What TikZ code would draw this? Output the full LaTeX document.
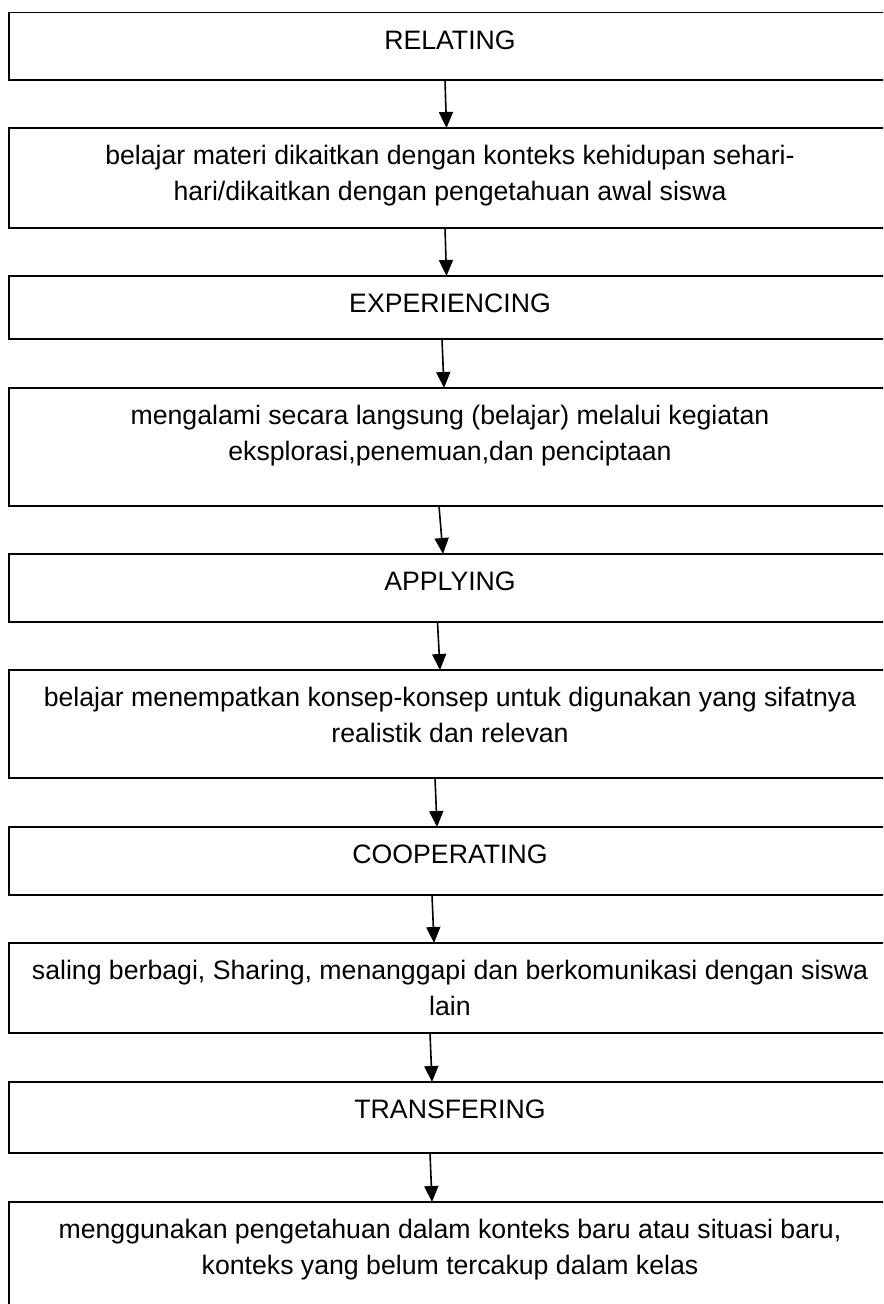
\documentclass[tikz,border=0pt]{standalone}
\usepackage{fontspec}
\setmainfont{Liberation Sans}
\usetikzlibrary{calc,arrows.meta}
\tikzset{
  stepbox/.style={draw=black, line width=1.2pt, rectangle, inner sep=0pt, outer sep=0pt, minimum width=661.5pt},
  steptext/.style={anchor=north, inner sep=0pt, align=center, font=\fontsize{20}{27}\selectfont},
  arr/.style={line width=1.2pt, -{Triangle[length=12pt,width=10.5pt]}}
}
\begin{document}
\begin{tikzpicture}[x=0.75pt,y=-0.75pt]
\useasboundingbox (0,0) rectangle (883,1304);
\clip (0,0) rectangle (883,1304);
\fill[white] (0,0) rectangle (883,1304);
\node[stepbox, minimum height=50.5pt] (b1) at (450,46.35) {};
\node[stepbox, minimum height=75pt] (b2) at (450,178) {};
\node[stepbox, minimum height=47.25pt] (b3) at (450,307.5) {};
\node[stepbox, minimum height=88.5pt] (b4) at (450,447) {};
\node[stepbox, minimum height=51pt] (b5) at (450,588) {};
\node[stepbox, minimum height=81pt] (b6) at (450,724) {};
\node[stepbox, minimum height=51pt] (b7) at (450,861) {};
\node[stepbox, minimum height=67.5pt] (b8) at (450,988) {};
\node[stepbox, minimum height=53.25pt] (b9) at (450,1117.5) {};
\node[stepbox, minimum height=96pt] (b10) at (450,1266) {};

\node[steptext] (t1) at ($(b1.north)+(0,11)$) {\strut RELATING};
\node[steptext] (t2) at ($(b2.north)+(0,11)$) {\strut belajar materi dikaitkan dengan konteks kehidupan sehari-\\hari/dikaitkan dengan pengetahuan awal siswa};
\node[steptext] (t3) at ($(b3.north)+(0,11)$) {\strut EXPERIENCING};
\node[steptext] (t4) at ($(b4.north)+(0,11)$) {\strut mengalami secara langsung (belajar) melalui kegiatan\\eksplorasi,penemuan,dan penciptaan};
\node[steptext] (t5) at ($(b5.north)+(0,11)$) {\strut APPLYING};
\node[steptext] (t6) at ($(b6.north)+(0,11)$) {\strut belajar menempatkan konsep-konsep untuk digunakan yang sifatnya\\realistik dan relevan};
\node[steptext] (t7) at ($(b7.north)+(0,11)$) {\strut COOPERATING};
\node[steptext] (t8) at ($(b8.north)+(0,11)$) {\strut saling berbagi, Sharing, menanggapi dan berkomunikasi dengan siswa\\lain};
\node[steptext] (t9) at ($(b9.north)+(0,11)$) {\strut TRANSFERING};
\node[steptext] (t10) at ($(b10.north)+(0,11)$) {\strut menggunakan pengetahuan dalam konteks baru atau situasi baru,\\konteks yang belum tercakup dalam kelas};

\draw[arr] ($(b1.south)+(-5,0)$) -- ($(b2.north)+(-3.5,0)$);
\draw[arr] ($(b2.south)+(-5,0)$) -- ($(b3.north)+(-3.5,0)$);
\draw[arr] ($(b3.south)+(-8,0)$) -- ($(b4.north)+(-6,0)$);
\draw[arr] ($(b4.south)+(-11,0)$) -- ($(b5.north)+(-7,0)$);
\draw[arr] ($(b5.south)+(-12.5,0)$) -- ($(b6.north)+(-10,0)$);
\draw[arr] ($(b6.south)+(-15,0)$) -- ($(b7.north)+(-13,0)$);
\draw[arr] ($(b7.south)+(-18,0)$) -- ($(b8.north)+(-16,0)$);
\draw[arr] ($(b8.south)+(-20,0)$) -- ($(b9.north)+(-18,0)$);
\draw[arr] ($(b9.south)+(-20,0)$) -- ($(b10.north)+(-18,0)$);
\end{tikzpicture}
\end{document}
